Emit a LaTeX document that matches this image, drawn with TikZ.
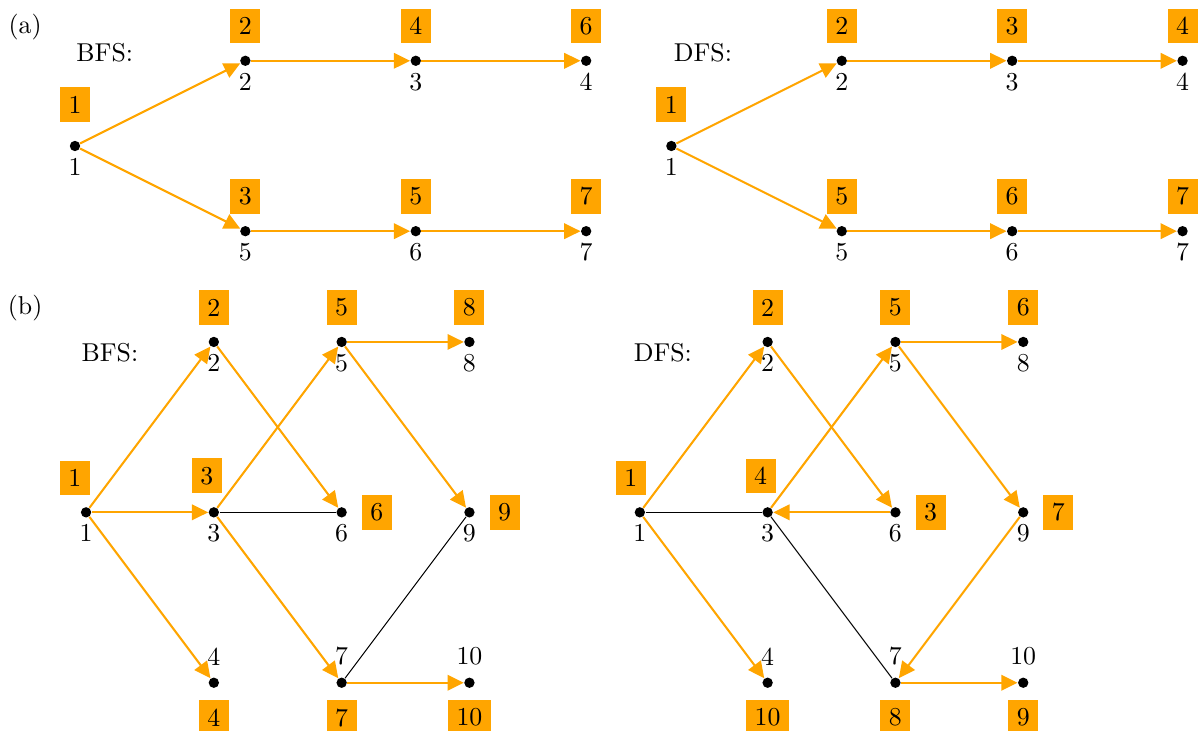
\documentclass[tikz,border=0pt]{standalone}
\usetikzlibrary{arrows.meta,positioning}
\definecolor{visitorange}{RGB}{255,165,0}

\begin{document}
\begin{tikzpicture}[x=0.58cm,y=0.58cm,
    vertex/.style={circle, fill=black, inner sep=0pt, minimum size=4pt},
    orderbox/.style={fill=visitorange, inner sep=0.333em},
    treeedge/.style={visitorange, line width=0.8pt, -{Triangle[length=6.3pt,width=6pt]}},
    otheredge/.style={black, line width=0.4pt},
    every label/.style={label distance=-1pt},
    uplabel/.style={label={[label distance=1pt]above:#1}}]
        \useasboundingbox (-1.76,-13.73) rectangle (26.386,3.427);

        % (a)
        \node (taga) at (-1.17,2.8) {(a)};
        \node (bfsa) at (0.7,2.18) {BFS:};
        \node (dfsa) at (14.74,2.18) {DFS:};

        \node[vertex, label=below:1] (a1) at (0,0) {};
        \node[vertex, label=below:2] (a2) at (4,2) {};
        \node[vertex, label=below:3] (a3) at (8,2) {};
        \node[vertex, label=below:4] (a4) at (12,2) {};
        \node[vertex, label=below:5] (a5) at (4,-2) {};
        \node[vertex, label=below:6] (a6) at (8,-2) {};
        \node[vertex, label=below:7] (a7) at (12,-2) {};

        \draw[treeedge] (a1) -- (a2);
        \draw[treeedge] (a2) -- (a3);
        \draw[treeedge] (a3) -- (a4);
        \draw[treeedge] (a1) -- (a5);
        \draw[treeedge] (a5) -- (a6);
        \draw[treeedge] (a6) -- (a7);

        \node[orderbox, above=7pt of a1] (oa1) {1};
        \node[orderbox, above=4.3pt of a2] (oa2) {2};
        \node[orderbox, above=4.3pt of a3] (oa3) {4};
        \node[orderbox, above=4.3pt of a4] (oa4) {6};
        \node[orderbox, above=4.3pt of a5] (oa5) {3};
        \node[orderbox, above=4.3pt of a6] (oa6) {5};
        \node[orderbox, above=4.3pt of a7] (oa7) {7};

        \node[vertex, label=below:1] (c1) at (14,0) {};
        \node[vertex, label=below:2] (c2) at (18,2) {};
        \node[vertex, label=below:3] (c3) at (22,2) {};
        \node[vertex, label=below:4] (c4) at (26,2) {};
        \node[vertex, label=below:5] (c5) at (18,-2) {};
        \node[vertex, label=below:6] (c6) at (22,-2) {};
        \node[vertex, label=below:7] (c7) at (26,-2) {};

        \draw[treeedge] (c1) -- (c2);
        \draw[treeedge] (c2) -- (c3);
        \draw[treeedge] (c3) -- (c4);
        \draw[treeedge] (c1) -- (c5);
        \draw[treeedge] (c5) -- (c6);
        \draw[treeedge] (c6) -- (c7);

        \node[orderbox, above=7pt of c1] (oc1) {1};
        \node[orderbox, above=4.3pt of c2] (oc2) {2};
        \node[orderbox, above=4.3pt of c3] (oc3) {3};
        \node[orderbox, above=4.3pt of c4] (oc4) {4};
        \node[orderbox, above=4.3pt of c5] (oc5) {5};
        \node[orderbox, above=4.3pt of c6] (oc6) {6};
        \node[orderbox, above=4.3pt of c7] (oc7) {7};

        % (b)
        \node (tagb) at (-1.17,-3.8) {(b)};
        \node (bfsb) at (0.82,-4.86) {BFS:};
        \node (dfsb) at (13.8,-4.86) {DFS:};

        \node[vertex, label=below:1] (b1) at (0.26,-8.6) {};
        \node[vertex, label=below:2] (b2) at (3.26,-4.6) {};
        \node[vertex, label=below:3] (b3) at (3.26,-8.6) {};
        \node[vertex, uplabel=4] (b4) at (3.26,-12.6) {};
        \node[vertex, label=below:5] (b5) at (6.26,-4.6) {};
        \node[vertex, label=below:6] (b6) at (6.26,-8.6) {};
        \node[vertex, uplabel=7] (b7) at (6.26,-12.6) {};
        \node[vertex, label=below:8] (b8) at (9.26,-4.6) {};
        \node[vertex, label=below:9] (b9) at (9.26,-8.6) {};
        \node[vertex, uplabel=10] (b10) at (9.26,-12.6) {};

        \draw[otheredge] (b3) -- (b6);
        \draw[otheredge] (b9) -- (b7);
        \draw[treeedge] (b1) -- (b2);
        \draw[treeedge] (b1) -- (b3);
        \draw[treeedge] (b1) -- (b4);
        \draw[treeedge] (b2) -- (b6);
        \draw[treeedge] (b3) -- (b5);
        \draw[treeedge] (b3) -- (b7);
        \draw[treeedge] (b5) -- (b8);
        \draw[treeedge] (b5) -- (b9);
        \draw[treeedge] (b7) -- (b10);

        \node[orderbox, above=4.3pt of b1, xshift=-4.3pt] (ob1) {1};
        \node[orderbox, above=4.3pt of b2] (ob2) {2};
        \node[orderbox, above=5pt of b3, xshift=-2.7pt] (ob3) {3};
        \node[orderbox, below=4.3pt of b4] (ob4) {4};
        \node[orderbox, above=4.3pt of b5] (ob5) {5};
        \node[orderbox, right=5.4pt of b6] (ob6) {6};
        \node[orderbox, below=4.3pt of b7] (ob7) {7};
        \node[orderbox, above=4.3pt of b8] (ob8) {8};
        \node[orderbox, right=5.4pt of b9] (ob9) {9};
        \node[orderbox, below=4.3pt of b10] (ob10) {10};

        \node[vertex, label=below:1] (d1) at (13.26,-8.6) {};
        \node[vertex, label=below:2] (d2) at (16.26,-4.6) {};
        \node[vertex, label=below:3] (d3) at (16.26,-8.6) {};
        \node[vertex, uplabel=4] (d4) at (16.26,-12.6) {};
        \node[vertex, label=below:5] (d5) at (19.26,-4.6) {};
        \node[vertex, label=below:6] (d6) at (19.26,-8.6) {};
        \node[vertex, uplabel=7] (d7) at (19.26,-12.6) {};
        \node[vertex, label=below:8] (d8) at (22.26,-4.6) {};
        \node[vertex, label=below:9] (d9) at (22.26,-8.6) {};
        \node[vertex, uplabel=10] (d10) at (22.26,-12.6) {};

        \draw[otheredge] (d1) -- (d3);
        \draw[otheredge] (d3) -- (d7);
        \draw[treeedge] (d1) -- (d2);
        \draw[treeedge] (d1) -- (d4);
        \draw[treeedge] (d2) -- (d6);
        \draw[treeedge] (d6) -- (d3);
        \draw[treeedge] (d3) -- (d5);
        \draw[treeedge] (d5) -- (d8);
        \draw[treeedge] (d5) -- (d9);
        \draw[treeedge] (d9) -- (d7);
        \draw[treeedge] (d7) -- (d10);

        \node[orderbox, above=4.3pt of d1, xshift=-3.5pt] (od1) {1};
        \node[orderbox, above=4.3pt of d2] (od2) {2};
        \node[orderbox, above=5pt of d3, xshift=-2.7pt] (od3) {4};
        \node[orderbox, below=4.3pt of d4] (od4) {10};
        \node[orderbox, above=4.3pt of d5] (od5) {5};
        \node[orderbox, right=5.4pt of d6] (od6) {3};
        \node[orderbox, below=4.3pt of d7] (od7) {8};
        \node[orderbox, above=4.3pt of d8] (od8) {6};
        \node[orderbox, right=5.4pt of d9] (od9) {7};
        \node[orderbox, below=4.3pt of d10] (od10) {9};

    \end{tikzpicture}
\end{document}
